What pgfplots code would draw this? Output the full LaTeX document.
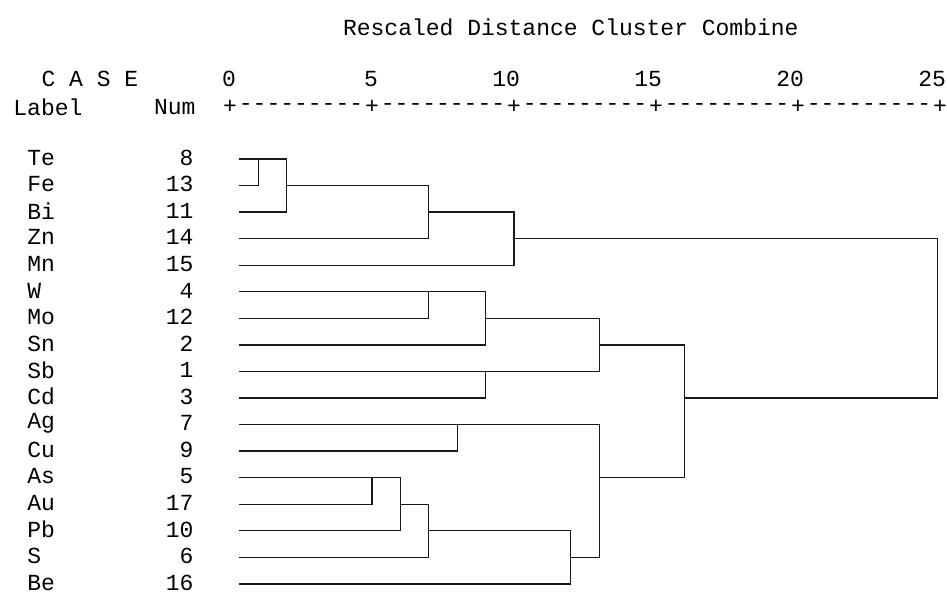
\documentclass[border=0pt]{standalone}
\usepackage{fontspec}
\setmainfont{Liberation Mono}
\usepackage{pgfplots}
\pgfplotsset{compat=1.18}
\begin{document}
\begin{tikzpicture}[font=\fontsize{11.5}{13}\selectfont, every node/.style={inner sep=0pt}]
\begin{axis}[
hide axis,
x=14.2pt, y=13.28pt, y dir=reverse,
xmin=-8.099, xmax=25.246,
ymin=-4.986, ymax=17.3,
clip=false,
tree/.style={black!90, line width=0.65pt, mark=none, sharp plot, solid},
]
% each merge: child A -> join height -> child B (rows 1..17 from top)
\addplot[tree] coordinates {(0.3,1) (1,1) (1,2) (0.3,2)};
\addplot[tree] coordinates {(1,1) (2,1) (2,3) (0.3,3)};
\addplot[tree] coordinates {(2,2) (7,2) (7,4) (0.3,4)};
\addplot[tree] coordinates {(7,3) (10,3) (10,5) (0.3,5)};
\addplot[tree] coordinates {(0.3,6) (7,6) (7,7) (0.3,7)};
\addplot[tree] coordinates {(7,6) (9,6) (9,8) (0.3,8)};
\addplot[tree] coordinates {(0.3,9) (9,9) (9,10) (0.3,10)};
\addplot[tree] coordinates {(9,7) (13,7) (13,9) (9,9)};
\addplot[tree] coordinates {(0.3,11) (8,11) (8,12) (0.3,12)};
\addplot[tree] coordinates {(0.3,13) (5,13) (5,14) (0.3,14)};
\addplot[tree] coordinates {(5,13) (6,13) (6,15) (0.3,15)};
\addplot[tree] coordinates {(6,14) (7,14) (7,16) (0.3,16)};
\addplot[tree] coordinates {(7,15) (12,15) (12,17) (0.3,17)};
\addplot[tree] coordinates {(8,11) (13,11) (13,16) (12,16)};
\addplot[tree] coordinates {(13,8) (16,8) (16,13) (13,13)};
\addplot[tree] coordinates {(10,4) (24.9,4) (24.9,10) (16,10)};

\coordinate (bl) at (axis cs:-8.099,17.3);
\coordinate (tr) at (axis cs:25.246,-4.986);

% header
\node at (axis cs:12.0,-3.97) {Rescaled Distance Cluster Combine};
\node[anchor=west] at (axis cs:-6.65,-2.01) {C A S E};
\node[anchor=west] at (axis cs:-7.64,-0.96) {Label};
\node[anchor=east] at (axis cs:-1.2,-0.96) {Num};
\node[anchor=east] at (axis cs:0.22,-2.01) {0};
\node[anchor=east] at (axis cs:5.22,-2.01) {5};
\node[anchor=east] at (axis cs:10.22,-2.01) {10};
\node[anchor=east] at (axis cs:15.22,-2.01) {15};
\node[anchor=east] at (axis cs:20.22,-2.01) {20};
\node[anchor=east] at (axis cs:25.22,-2.01) {25};
\node at (axis cs:0,-0.96) {+};
\node at (axis cs:5,-0.96) {+};
\node at (axis cs:10,-0.96) {+};
\node at (axis cs:15,-0.96) {+};
\node at (axis cs:20,-0.96) {+};
\node at (axis cs:25,-0.96) {+};
\node at (axis cs:2.5,-0.96) {-{}-{}-{}-{}-{}-{}-{}-{}-};
\node at (axis cs:7.5,-0.96) {-{}-{}-{}-{}-{}-{}-{}-{}-};
\node at (axis cs:12.5,-0.96) {-{}-{}-{}-{}-{}-{}-{}-{}-};
\node at (axis cs:17.5,-0.96) {-{}-{}-{}-{}-{}-{}-{}-{}-};
\node at (axis cs:22.5,-0.96) {-{}-{}-{}-{}-{}-{}-{}-{}-};

% case labels and numbers
\node[anchor=west] at (axis cs:-7.15,0.95) {Te};  \node[anchor=east] at (axis cs:-1.27,0.95) {8};
\node[anchor=west] at (axis cs:-7.15,1.95) {Fe};  \node[anchor=east] at (axis cs:-1.27,1.95) {13};
\node[anchor=west] at (axis cs:-7.15,2.95) {Bi};  \node[anchor=east] at (axis cs:-1.27,2.95) {11};
\node[anchor=west] at (axis cs:-7.15,3.95) {Zn};  \node[anchor=east] at (axis cs:-1.27,3.95) {14};
\node[anchor=west] at (axis cs:-7.15,4.95) {Mn};  \node[anchor=east] at (axis cs:-1.27,4.95) {15};
\node[anchor=west] at (axis cs:-7.15,5.95) {W};   \node[anchor=east] at (axis cs:-1.27,5.95) {4};
\node[anchor=west] at (axis cs:-7.15,6.95) {Mo};  \node[anchor=east] at (axis cs:-1.27,6.95) {12};
\node[anchor=west] at (axis cs:-7.15,7.95) {Sn};  \node[anchor=east] at (axis cs:-1.27,7.95) {2};
\node[anchor=west] at (axis cs:-7.15,8.95) {Sb};  \node[anchor=east] at (axis cs:-1.27,8.95) {1};
\node[anchor=west] at (axis cs:-7.15,9.95) {Cd}; \node[anchor=east] at (axis cs:-1.27,9.95) {3};
\node[anchor=west] at (axis cs:-7.15,10.95) {Ag}; \node[anchor=east] at (axis cs:-1.27,10.95) {7};
\node[anchor=west] at (axis cs:-7.15,11.95) {Cu}; \node[anchor=east] at (axis cs:-1.27,11.95) {9};
\node[anchor=west] at (axis cs:-7.15,12.95) {As}; \node[anchor=east] at (axis cs:-1.27,12.95) {5};
\node[anchor=west] at (axis cs:-7.15,13.95) {Au}; \node[anchor=east] at (axis cs:-1.27,13.95) {17};
\node[anchor=west] at (axis cs:-7.15,14.95) {Pb}; \node[anchor=east] at (axis cs:-1.27,14.95) {10};
\node[anchor=west] at (axis cs:-7.15,15.95) {S};  \node[anchor=east] at (axis cs:-1.27,15.95) {6};
\node[anchor=west] at (axis cs:-7.15,16.95) {Be}; \node[anchor=east] at (axis cs:-1.27,16.95) {16};
\end{axis}
\pgfresetboundingbox
\path[use as bounding box] (bl) rectangle (tr);
\end{tikzpicture}
\end{document}
